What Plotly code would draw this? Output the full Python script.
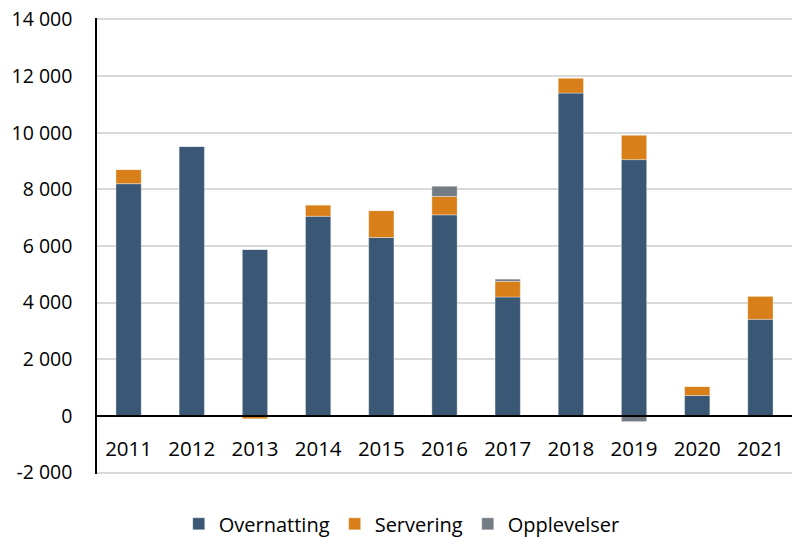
import plotly.graph_objects as go

years = ["2011", "2012", "2013", "2014", "2015", "2016", "2017", "2018", "2019", "2020", "2021"]
overnatting = [8200, 9520, 5880, 7050, 6300, 7100, 4200, 11400, 9050, 720, 3410]
servering = [500, 0, -100, 400, 950, 650, 550, 530, 860, 320, 820]
opplevelser = [0, 0, 0, 0, 0, 360, 80, 0, -200, 0, 0]

y_ticks = [-2000, 0, 2000, 4000, 6000, 8000, 10000, 12000, 14000]
y_tick_text = [f"{v:,}".replace(",", " ") for v in y_ticks]

# a little padding keeps the end gridlines inside the plot area
y_range = [-2050, 14050]
zero_pos = (0 - y_range[0]) / (y_range[1] - y_range[0])

colors = {"Overnatting": "#3A5775", "Servering": "#D87F1A", "Opplevelser": "#737B84"}
font_family = "Open Sans, Lato, sans-serif"

fig = go.Figure()
for name, vals in [("Overnatting", overnatting), ("Servering", servering), ("Opplevelser", opplevelser)]:
    fig.add_trace(go.Bar(
        x=years, y=vals, name=name,
        marker=dict(color=colors[name], line=dict(color="rgba(255,255,255,0.35)", width=1)),
    ))

# invisible trace that carries the year categories onto the label axis
fig.add_trace(go.Scatter(
    x=years, y=[0] * len(years), xaxis="x2", mode="none",
    showlegend=False, hoverinfo="skip",
))

fig.update_layout(
    barmode="relative",
    bargap=0.6,
    width=792, height=537,
    margin=dict(l=97, r=0, t=18, b=63, autoexpand=False),
    plot_bgcolor="white", paper_bgcolor="white",
    font=dict(family=font_family, size=20, color="#000000"),
    showlegend=True,
    legend=dict(
        orientation="h", x=0.4385, xanchor="center", y=-0.152, yanchor="bottom",
        font=dict(size=20), itemwidth=30, traceorder="normal",
    ),
    xaxis=dict(
        type="category", showticklabels=False, showline=False,
        showgrid=False, ticks="", automargin=False,
    ),
    # category labels sit just under the zero level
    xaxis2=dict(
        type="category", overlaying="x", matches="x", anchor="free", position=zero_pos,
        showline=True, linecolor="#000000", linewidth=1.5,
        ticks="outside", ticklen=15, tickcolor="rgba(0,0,0,0)",
        showgrid=False, tickfont=dict(size=20.5), automargin=False,
    ),
    yaxis=dict(
        range=y_range, tickvals=y_ticks, ticktext=y_tick_text,
        showline=True, linecolor="#000000", linewidth=1.5,
        showgrid=True, gridcolor="#D9D9D9", gridwidth=1.5,
        zeroline=False, automargin=False,
        ticks="outside", ticklen=19, tickcolor="rgba(0,0,0,0)",
        tickfont=dict(size=19.5),
    ),
)

fig.write_html("out.html")
